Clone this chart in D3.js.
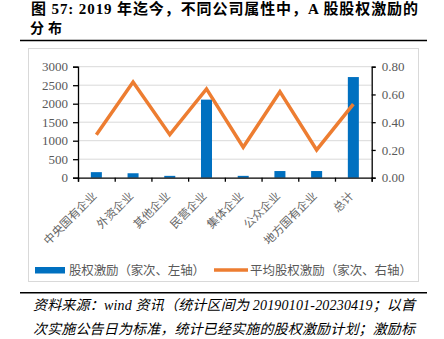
<!DOCTYPE html>
<html lang="zh">
<head>
  <meta charset="UTF-8">
  <title>股权激励分布</title>
  <script src="https://d3js.org/d3.v7.min.js"></script>
  <style>
    html, body { margin: 0; padding: 0; background: #fff; }
    svg { display: block; }
    .serif { font-family: "Liberation Serif", "Times New Roman", "Noto Sans CJK SC", serif; }
    .cjk { font-family: "Noto Sans CJK SC", sans-serif; }
  </style>
</head>
<body>
<script>
  // chart data
  const categories = ["中央国有企业", "外资企业", "其他企业", "民营企业", "集体企业", "公众企业", "地方国有企业", "总计"];
  const incentiveCounts = [150, 120, 50, 2110, 50, 180, 180, 2720];
  const avgIncentive = [0.31, 0.69, 0.31, 0.64, 0.22, 0.62, 0.20, 0.53];
  const leftTicks = [0, 500, 1000, 1500, 2000, 2500, 3000];
  const rightTicks = [0, 0.2, 0.4, 0.6, 0.8];

  const W = 444, H = 339;
  const plot = { left: 78, right: 371.7, top: 66.7, bottom: 177.7 };
  const grey = '#595959';

  const svg = d3.select('body').append('svg')
    .attr('width', W).attr('height', H);

  // title + rules
  svg.append('text').attr('class', 'serif')
    .attr('x', 31).attr('y', 14)
    .attr('font-size', 15).attr('font-weight', 'bold')
    .attr('textLength', 387).attr('lengthAdjust', 'spacing')
    .text('图 57: 2019 年迄今，不同公司属性中，A 股股权激励的');
  svg.append('text').attr('class', 'serif')
    .attr('x', 30).attr('y', 33)
    .attr('font-size', 14).attr('font-weight', 'bold')
    .attr('letter-spacing', 4)
    .text('分布');
  svg.append('line').attr('x1', 20).attr('x2', 427).attr('y1', 40.5).attr('y2', 40.5)
    .attr('stroke', '#000').attr('stroke-width', 1.5);
  svg.append('rect').attr('x', 28.5).attr('y', 48.5).attr('width', 390).attr('height', 233)
    .attr('fill', 'none').attr('stroke', '#d9d9d9');

  // scales
  const x = d3.scaleBand().domain(categories)
    .range([plot.left, plot.right]).paddingInner(0.7).paddingOuter(0.35);
  const xTick = d3.scaleLinear().domain([0, categories.length]).range([plot.left, plot.right]);
  const yL = d3.scaleLinear().domain([0, 3000]).range([plot.bottom, plot.top]);
  const yR = d3.scaleLinear().domain([0, 0.8]).range([plot.bottom, plot.top]);

  // gridlines
  svg.append('g').selectAll('line').data(leftTicks.filter(d => d > 0)).enter().append('line')
    .attr('x1', plot.left).attr('x2', plot.right)
    .attr('y1', d => yL(d)).attr('y2', d => yL(d))
    .attr('stroke', '#d9d9d9').attr('stroke-width', 1);

  // bars
  svg.append('g').selectAll('rect').data(categories).enter().append('rect')
    .attr('x', d => x(d))
    .attr('width', x.bandwidth())
    .attr('y', (d, i) => yL(incentiveCounts[i]))
    .attr('height', (d, i) => plot.bottom - yL(incentiveCounts[i]))
    .attr('fill', '#0070c0');

  // line
  const line = d3.line()
    .x((d, i) => x(categories[i]) + x.bandwidth() / 2)
    .y(d => yR(d));
  svg.append('path').datum(avgIncentive)
    .attr('d', line)
    .attr('fill', 'none')
    .attr('stroke', '#ed7d31')
    .attr('stroke-width', 3.5);

  // axes
  const leftAxis = svg.append('g').attr('transform', `translate(${plot.left},0)`)
    .call(d3.axisLeft(yL).tickValues(leftTicks).tickSize(5).tickPadding(5).tickFormat(d3.format('d')));
  const rightAxis = svg.append('g').attr('transform', `translate(${plot.right},0)`)
    .call(d3.axisRight(yR).tickValues(rightTicks).tickSize(4).tickPadding(6).tickFormat(d3.format('.2f')));
  const bottomAxis = svg.append('g').attr('transform', `translate(0,${plot.bottom})`)
    .call(d3.axisBottom(xTick).tickValues(d3.range(categories.length + 1)).tickSize(4).tickFormat(''));

  [leftAxis, rightAxis, bottomAxis].forEach(g => {
    g.select('.domain').attr('stroke', '#000').attr('stroke-width', 1.3);
    g.selectAll('.tick line').attr('stroke', '#000').attr('stroke-width', 1.3);
    g.selectAll('.tick text')
      .attr('class', 'serif')
      .attr('font-family', null)
      .attr('font-size', 13)
      .attr('fill', grey);
  });

  // category labels
  svg.append('g').selectAll('text').data(categories).enter().append('text')
    .attr('class', 'cjk')
    .attr('transform', d => `translate(${x(d) + x.bandwidth() / 2 + 1},${plot.bottom + 19}) rotate(-45)`)
    .attr('text-anchor', 'end')
    .attr('font-size', 11.5)
    .attr('fill', '#666')
    .text(d => d);

  // legend
  const lg = svg.append('g').attr('class', 'cjk').attr('font-size', 12.5).attr('fill', grey);
  lg.append('rect').attr('x', 35).attr('y', 267).attr('width', 30).attr('height', 6.5).attr('fill', '#0070c0');
  lg.append('text').attr('x', 69).attr('y', 275)
    .attr('textLength', 136).attr('lengthAdjust', 'spacing')
    .text('股权激励（家次、左轴）');
  lg.append('line').attr('x1', 214).attr('x2', 248).attr('y1', 270).attr('y2', 270)
    .attr('stroke', '#ed7d31').attr('stroke-width', 3.5);
  lg.append('text').attr('x', 250).attr('y', 275)
    .attr('textLength', 162).attr('lengthAdjust', 'spacing')
    .text('平均股权激励（家次、右轴）');

  // source note
  svg.append('line').attr('x1', 20).attr('x2', 427).attr('y1', 292.7).attr('y2', 292.7)
    .attr('stroke', '#000').attr('stroke-width', 1.5);
  const src = svg.append('g').attr('class', 'serif').attr('font-size', 14)
    .attr('font-style', 'italic').attr('fill', '#000');
  src.append('text').attr('x', 33).attr('y', 310)
    .attr('textLength', 382).attr('lengthAdjust', 'spacing')
    .text('资料来源：wind 资讯（统计区间为 20190101-20230419；以首');
  src.append('text').attr('x', 33).attr('y', 334)
    .attr('textLength', 382).attr('lengthAdjust', 'spacing')
    .text('次实施公告日为标准，统计已经实施的股权激励计划；激励标');
</script>
</body>
</html>
